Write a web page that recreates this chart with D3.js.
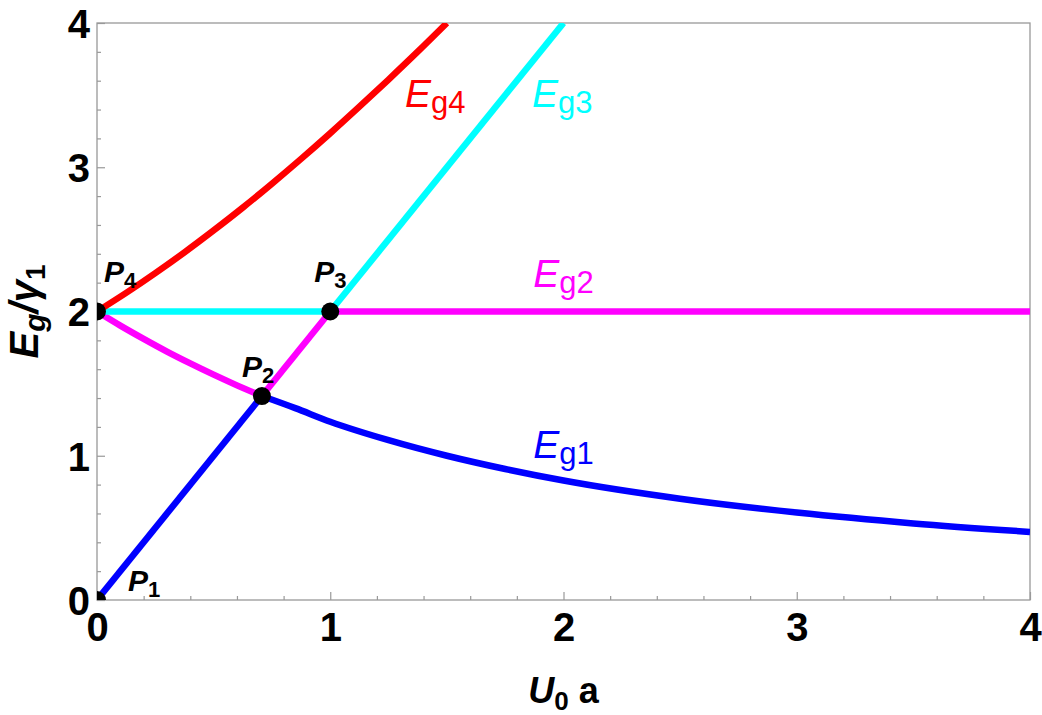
<!DOCTYPE html>
<meta charset="utf-8">
<title>Eg / gamma1 vs U0 a</title>
<style>
  body { margin: 0; background: #fff; }
  text { font-family: "Liberation Sans", Arial, sans-serif; }
</style>
<div id="viz"></div>
<script src="https://cdnjs.cloudflare.com/ajax/libs/d3/7.8.5/d3.min.js"></script>
<script>

var width = 1042;
var height = 715;

// ticks
var xTicks = [0, 1, 2, 3, 4];
var yTicks = [0, 1, 2, 3, 4];
var minorTicks = [0.2, 0.4, 0.6, 0.8, 1.2, 1.4, 1.6, 1.8, 2.2, 2.4, 2.6, 2.8, 3.2, 3.4, 3.6, 3.8];

// curves; each curve is a list of smooth pieces
var eg1 = [
  [[0, 0], [0.707, 1.414]],
  [[0.707, 1.414], [0.85, 1.33], [1, 1.236], [1.25, 1.108], [1.5, 1.0], [1.75, 0.908],
   [2, 0.828], [2.5, 0.702], [3, 0.606], [3.5, 0.531], [4, 0.472]]
];
var eg2 = [
  [[0, 2], [0.1, 1.902], [0.2, 1.810], [0.3, 1.722], [0.4, 1.640], [0.5, 1.562],
   [0.6, 1.488], [0.707, 1.414]],
  [[0.707, 1.414], [1, 2]],
  [[1, 2], [4, 2]]
];
var eg3 = [
  [[0, 2], [1, 2]],
  [[1, 2], [2, 4]]
];
var eg4 = [
  [[0, 2], [0.125, 2.129], [0.25, 2.266], [0.375, 2.410], [0.5, 2.562], [0.625, 2.720],
   [0.75, 2.886], [0.875, 3.058], [1, 3.236], [1.125, 3.420], [1.25, 3.608],
   [1.375, 3.801], [1.5, 4]]
];

var curves = [
  {name: "g1", color: "#0000ff", pieces: eg1},
  {name: "g2", color: "#ff00ff", pieces: eg2},
  {name: "g3", color: "#00ffff", pieces: eg3},
  {name: "g4", color: "#ff0000", pieces: eg4}
];

// labelled points
var points = [[0, 0], [0.707, 1.414], [1, 2], [0, 2]];
var pointNames = ["1", "2", "3", "4"];

// curve labels: text anchor in data units
var curveLabels = [
  {sub: "g4", color: "#ff0000", x: 1.32, y: 3.42},
  {sub: "g3", color: "#00ffff", x: 1.865, y: 3.42},
  {sub: "g2", color: "#ff00ff", x: 1.87, y: 2.17},
  {sub: "g1", color: "#0000ff", x: 1.87, y: 0.985}
];

var margin = {left: 97, top: 23, right: 12, bottom: 115};

var x = d3.scaleLinear().domain([0, 4]).range([margin.left, width - margin.right]);
var y = d3.scaleLinear().domain([0, 4]).range([height - margin.bottom, margin.top]);

var svg = d3.select("#viz")
  .append("svg")
  .attr("width", width)
  .attr("height", height);

svg.append("clipPath").attr("id", "plot-clip")
  .append("rect")
  .attr("x", x(0)).attr("y", y(4))
  .attr("width", x(4) - x(0)).attr("height", y(0) - y(4));

// frame
svg.append("rect")
  .attr("x", x(0)).attr("y", y(4))
  .attr("width", x(4) - x(0)).attr("height", y(0) - y(4))
  .attr("fill", "none")
  .attr("stroke", "#999")
  .attr("stroke-width", 1.3);

// minor ticks
svg.append("g")
  .attr("transform", "translate(0," + y(0) + ")")
  .call(d3.axisBottom(x).tickValues(minorTicks).tickSize(-4).tickFormat(""))
  .call(g => g.select(".domain").remove());
svg.append("g")
  .attr("transform", "translate(" + x(0) + ",0)")
  .call(d3.axisLeft(y).tickValues(minorTicks).tickSize(-4).tickFormat(""))
  .call(g => g.select(".domain").remove());

// major ticks + labels
var xAxis = svg.append("g")
  .attr("transform", "translate(0," + y(0) + ")")
  .call(d3.axisBottom(x).tickValues(xTicks).tickSize(-8).tickPadding(13).tickFormat(d3.format("d")));
var yAxis = svg.append("g")
  .attr("transform", "translate(" + x(0) + ",0)")
  .call(d3.axisLeft(y).tickValues(yTicks).tickSize(-8).tickPadding(7).tickFormat(d3.format("d")));

svg.selectAll(".domain").remove();
svg.selectAll(".tick line").attr("stroke", "#999").attr("stroke-width", 1.2);
[xAxis, yAxis].forEach(function(ax) {
  ax.selectAll("text")
    .attr("fill", "#000")
    .style("font-family", "'Liberation Sans', Arial, sans-serif")
    .style("font-weight", "bold")
    .style("font-size", "40px");
});
yAxis.selectAll("text").attr("dy", "0.36em");

// curves
var line = d3.line()
  .x(d => x(d[0]))
  .y(d => y(d[1]))
  .curve(d3.curveMonotoneX);

var plot = svg.append("g").attr("clip-path", "url(#plot-clip)");

curves.forEach(function(c) {
  plot.selectAll(null)
    .data(c.pieces)
    .enter().append("path")
    .attr("d", line)
    .attr("fill", "none")
    .attr("stroke", c.color)
    .attr("stroke-width", 6.5)
    .attr("stroke-linecap", "butt")
    .attr("stroke-linejoin", "round");
});

plot.selectAll("circle")
  .data(points)
  .enter().append("circle")
  .attr("cx", d => x(d[0]))
  .attr("cy", d => y(d[1]))
  .attr("r", 9)
  .attr("fill", "#000");

// point labels (offsets in px from the dot)
var pOffsets = [[31, -9], [-20, -19], [-16, -30], [7, -30]];
points.forEach(function(p, i) {
  var t = svg.append("text")
    .attr("x", x(p[0]) + pOffsets[i][0])
    .attr("y", y(p[1]) + pOffsets[i][1])
    .attr("fill", "#000")
    .style("font-weight", "bold")
    .style("font-size", "30px");
  t.append("tspan").text("P").style("font-style", "italic");
  t.append("tspan").text(pointNames[i]).attr("dy", 6).style("font-size", "22px");
});

// curve labels
curveLabels.forEach(function(l) {
  var t = svg.append("text")
    .attr("x", x(l.x))
    .attr("y", y(l.y))
    .attr("fill", l.color)
    .style("font-size", "39px");
  t.append("tspan").text("E").style("font-style", "italic");
  t.append("tspan").text(l.sub).attr("dy", 6).style("font-size", "31px");
});

// axis titles
var xt = svg.append("text")
  .attr("x", (x(0) + x(4)) / 2)
  .attr("y", 703)
  .attr("text-anchor", "middle")
  .attr("fill", "#000")
  .style("font-weight", "bold")
  .style("font-size", "36px");
xt.append("tspan").text("U").style("font-style", "italic");
xt.append("tspan").text("0").attr("dy", 7).style("font-size", "26px");
xt.append("tspan").text("\u00a0a").attr("dy", -7);

var yt = svg.append("text")
  .attr("transform", "translate(38," + (y(0) + y(4)) / 2 + ") rotate(-90)")
  .attr("text-anchor", "middle")
  .attr("fill", "#000")
  .style("font-weight", "bold")
  .style("font-size", "40px");
yt.append("tspan").text("E").style("font-style", "italic");
yt.append("tspan").text("g").attr("dy", 7).style("font-size", "30px").style("font-style", "italic");
yt.append("tspan").text("/").attr("dy", -7).style("font-style", "italic");
yt.append("tspan").text("\u03b3").style("font-style", "italic");
yt.append("tspan").text("1").attr("dy", 7).style("font-size", "28px");

</script>
